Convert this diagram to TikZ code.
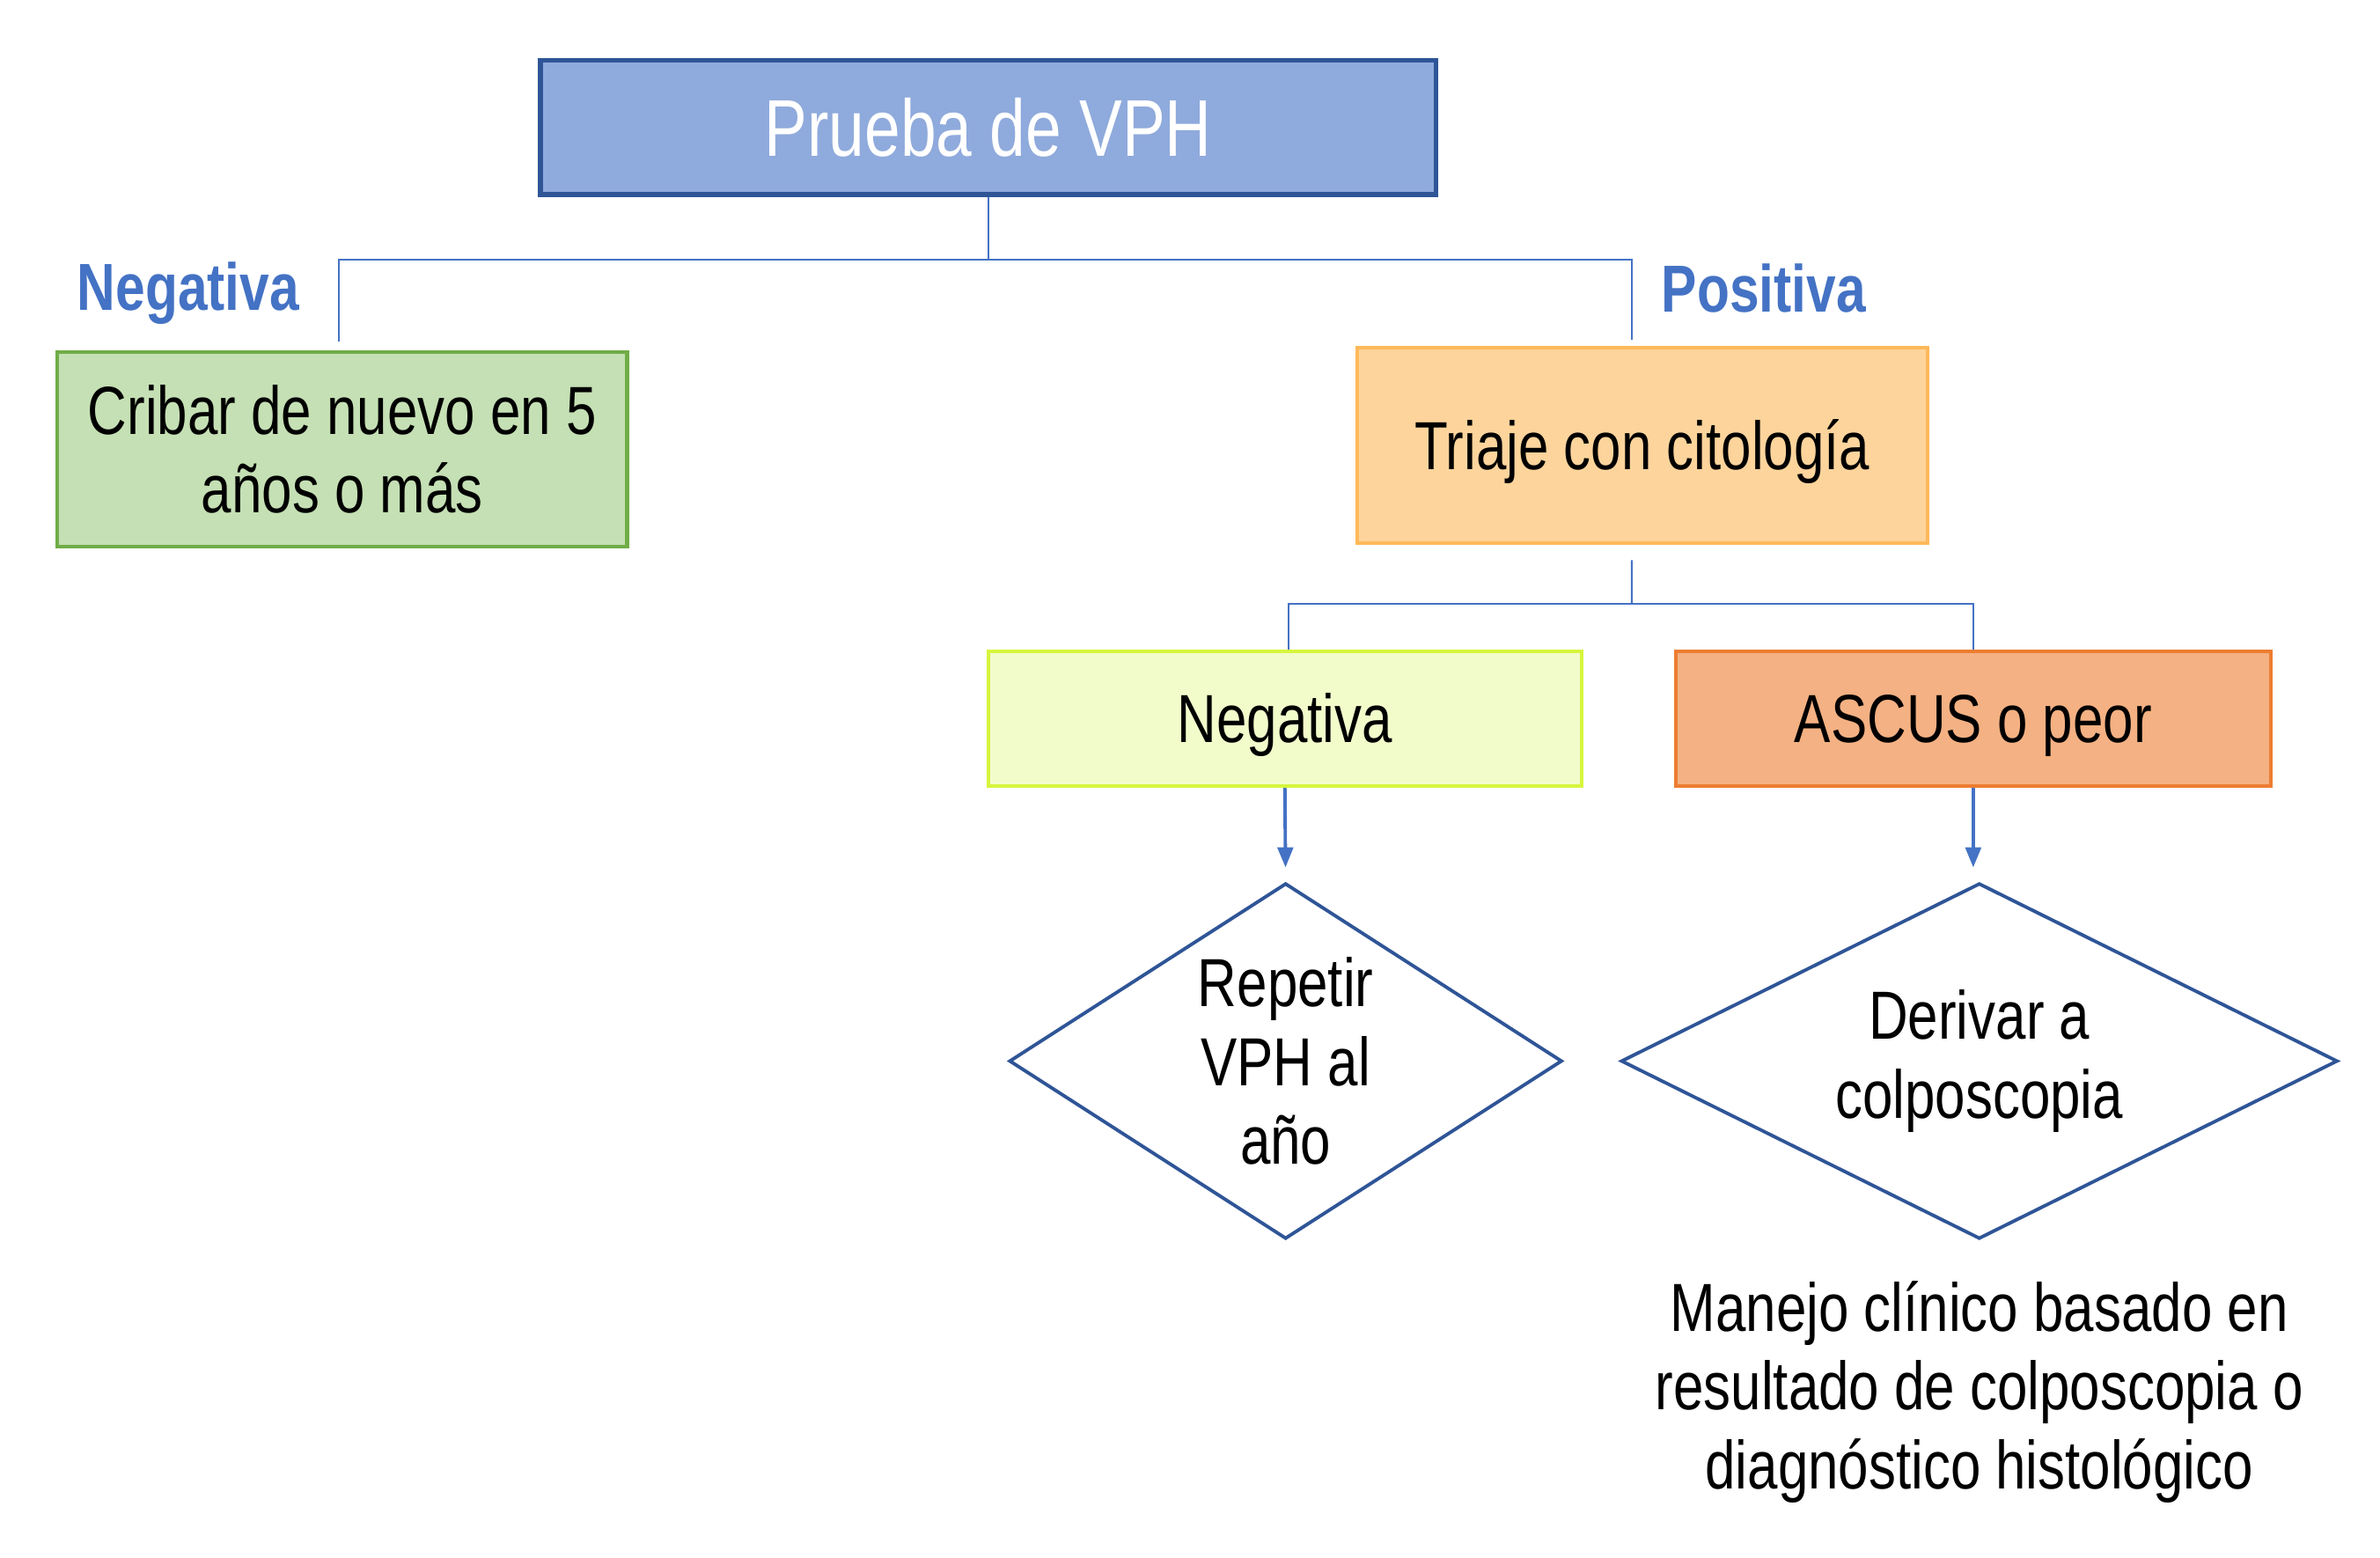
\documentclass[tikz,border=0pt]{standalone}
\usepackage{fontspec}
\usepackage{xcolor}
\usetikzlibrary{arrows.meta}
\usetikzlibrary{shapes.geometric}
\setmainfont{Liberation Sans}[FakeStretch=0.8]
\newcommand{\flowtext}{\fontsize{22pt}{25.5pt}\selectfont}
\newcommand{\flowtitle}{\fontsize{26pt}{30pt}\selectfont}
\newcommand{\flowlabel}{\fontsize{21.5pt}{25pt}\selectfont\bfseries}
\definecolor{flowblue}{HTML}{4472C4}
\definecolor{flowdark}{HTML}{2F5597}
\definecolor{flowtop}{HTML}{8FAADC}
\definecolor{greenfill}{HTML}{C5E0B4}
\definecolor{greenline}{HTML}{70AD47}
\definecolor{orangefill}{HTML}{FDD49C}
\definecolor{orangeline}{HTML}{FFB95A}
\definecolor{limefill}{HTML}{F2FCCB}
\definecolor{limeline}{HTML}{D6F53D}
\definecolor{salmonfill}{HTML}{F4B183}
\definecolor{salmonline}{HTML}{ED7D31}

\begin{document}
\begin{tikzpicture}[
  x=0.017245cm,
  y=-0.017245cm,
  every node/.style={font=\flowtext, black},
  box/.style={rectangle, line width=1.2pt, inner sep=0pt, align=center},
  oneline/.style={text height=20pt, text depth=4.6pt},
  topbox/.style={box, draw=flowdark, fill=flowtop, line width=1.5pt,
    minimum width=10.17cm, minimum height=1.52cm, font=\flowtitle, text=white},
  greenbox/.style={box, draw=greenline, fill=greenfill,
    minimum width=6.47cm, minimum height=2.21cm},
  orangebox/.style={box, oneline, draw=orangeline, fill=orangefill,
    minimum width=6.48cm, minimum height=2.22cm},
  limebox/.style={box, oneline, draw=limeline, fill=limefill,
    minimum width=6.74cm, minimum height=1.53cm},
  salmonbox/.style={box, oneline, draw=salmonline, fill=salmonfill,
    minimum width=6.76cm, minimum height=1.53cm},
  decision/.style={diamond, draw=flowdark, line width=1.1pt, inner sep=0pt,
    align=center},
  branchlabel/.style={font=\flowlabel, text=flowblue},
  link/.style={flowblue, line width=0.6pt},
  arrow/.style={flowblue, line width=1.1pt, -{Triangle[length=6.5pt, width=5pt]},
    shorten >=0.16cm}
]
  % ---- page frame
  \path (0,0) rectangle (1568,1026);

  % ---- boxes -----------------------------------------------------------
  \node[topbox]    (prueba) at (651,84)    {Prueba de VPH};
  \node[greenbox]  (cribar) at (225.5,296) {Cribar de nuevo en 5\\años o más};
  \node[orangebox] (triaje) at (1082,293.5) {Triaje con citología};
  \node[limebox]   (neg)    at (846.5,473.5) {Negativa};
  \node[salmonbox] (ascus)  at (1300,473.5)  {ASCUS o peor};

  % ---- decisions -------------------------------------------------------
  \node[decision, minimum width=6.28cm, minimum height=4.04cm, aspect=1.55]
    (repetir) at (847,699) {Repetir\\VPH al\\año};
  \node[decision, minimum width=8.14cm, minimum height=4.04cm, aspect=2]
    (derivar) at (1304,699) {Derivar a\\colposcopia};

  % ---- closing note
  \node[align=center] (manejo) at (1304,917)
    {Manejo clínico basado en\\resultado de colposcopia o\\diagnóstico histológico};

  % ---- branch labels
  \node[branchlabel] (lblneg) at (124,193)  {Negativa};
  \node[branchlabel] (lblpos) at (1162,190) {Positiva};

  % ---- first split -----------------------------------------------------
  \coordinate (bus1) at (651,171);
  \draw[link] (prueba.south) -- (bus1);
  \draw[link, shorten >=0.1cm] (bus1) -| ([xshift=-0.04cm]cribar.north);
  \draw[link, shorten >=0.07cm] (bus1) -| ([xshift=-0.12cm]triaje.north);

  % ---- second split ----------------------------------------------------
  \coordinate (bus2) at (1075,398);
  \draw[link, shorten <=0.17cm] ([xshift=-0.12cm]triaje.south) -- (bus2);
  \draw[link] (bus2) -| ([xshift=0.04cm]neg.north);
  \draw[link] (bus2) -| (ascus.north);

  % ---- arrows into the decisions
  \draw[arrow] (neg.south) -- (repetir.north);
  \draw[arrow] (ascus.south) -- (ascus.south |- derivar.north);
\end{tikzpicture}
\end{document}
